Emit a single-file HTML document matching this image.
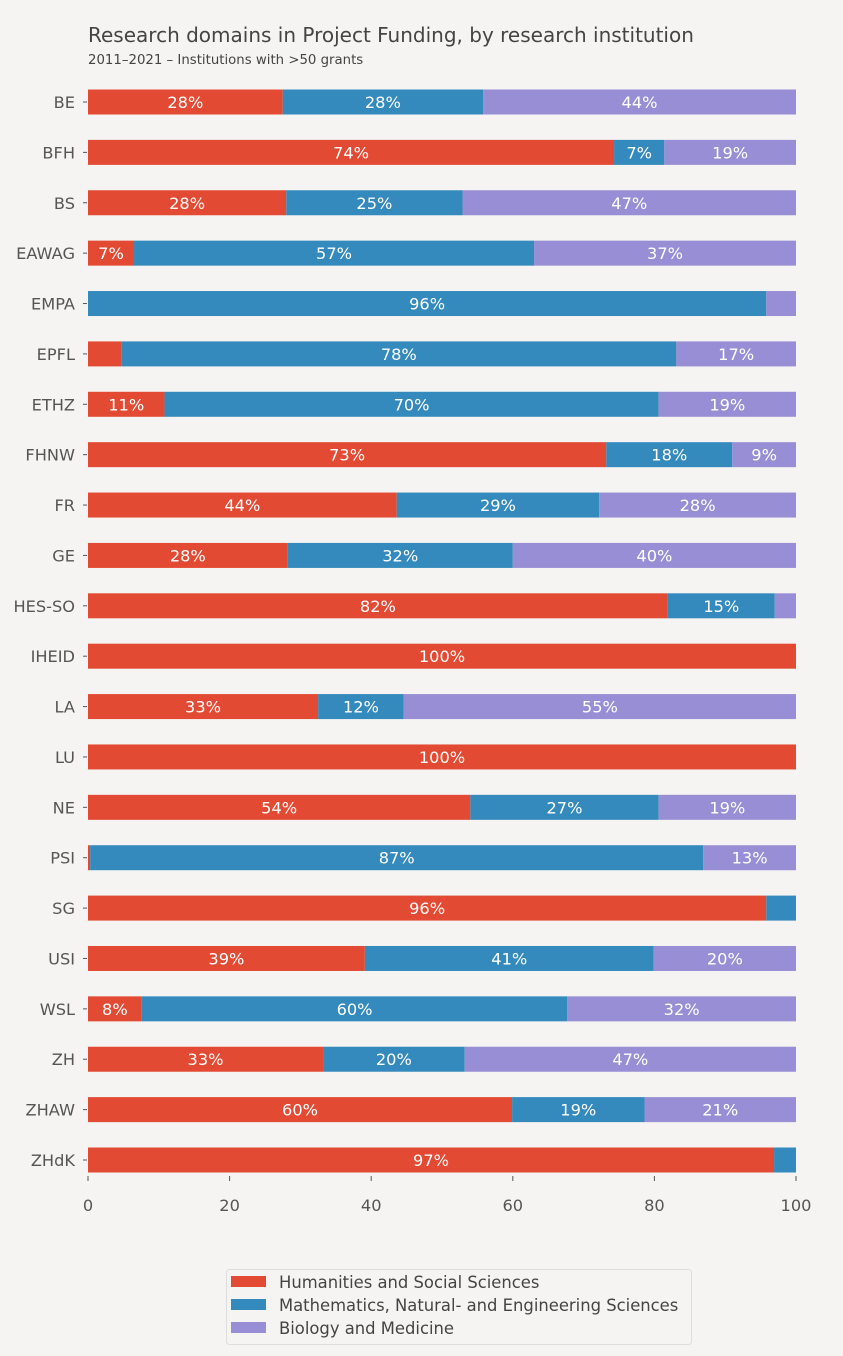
<!DOCTYPE html>
<html><head><meta charset="utf-8">
<style>
html,body{margin:0;padding:0;background:#F5F4F2;}
svg{display:block;font-family:"DejaVu Sans","Liberation Sans",sans-serif;}
</style></head>
<body>
<svg id="chart" width="843" height="1356" viewBox="0 0 843 1356">
  <rect x="0" y="0" width="843" height="1356" fill="#F5F4F2"/>
  <text x="88" y="42" font-size="20" fill="#444">Research domains in Project Funding, by research institution</text>
  <text x="88" y="64" font-size="13.3" fill="#444">2011–2021 – Institutions with &gt;50 grants</text>
  <g id="bars"></g>
  <g id="yaxis"></g>
  <g id="xaxis"></g>
  <g>
    <rect x="226.5" y="1269.5" width="465" height="75" rx="3" fill="#F5F4F2" stroke="#ddd"/>
    <g>
      <rect x="231" y="1276" width="35" height="11" fill="#E24A33"/>
      <text x="279" y="1288" font-size="16.4" fill="#444">Humanities and Social Sciences</text>
    </g>
    <g>
      <rect x="231" y="1299" width="35" height="11" fill="#348ABD"/>
      <text x="279" y="1311" font-size="16.4" fill="#444">Mathematics, Natural- and Engineering Sciences</text>
    </g>
    <g>
      <rect x="231" y="1322" width="35" height="11" fill="#988ED5"/>
      <text x="279" y="1334" font-size="16.4" fill="#444">Biology and Medicine</text>
    </g>
  </g>
</svg>
<script>
const categories = ["BE","BFH","BS","EAWAG","EMPA","EPFL","ETHZ","FHNW","FR","GE","HES-SO","IHEID","LA","LU","NE","PSI","SG","USI","WSL","ZH","ZHAW","ZHdK"];
const humanities = [27.5,74.3,28.0,6.5,0,4.7,10.8,73.2,43.6,28.2,81.9,100,32.5,100,54.0,0.3,95.8,39.1,7.6,33.2,59.9,96.9];
const mathematics = [28.3,7.1,24.9,56.5,95.8,78.4,69.8,17.8,28.6,31.8,15.1,0,12.1,0,26.6,86.6,4.2,40.8,60.1,20.0,18.7,3.1];
const biology = [44.2,18.6,47.1,37.0,4.2,16.9,19.4,9.0,27.8,40.0,3.0,0,55.4,0,19.4,13.1,0,20.1,32.3,46.8,21.4,0];
const xTicks = [0,20,40,60,80,100];

const NS = "http://www.w3.org/2000/svg";
const x0 = 88, x1 = 796;
const xScale = v => x0 + (x1 - x0) * v / 100;
const yTop = 102, yBot = 1160;
const yScale = i => yTop + (yBot - yTop) * i / (categories.length - 1);
const barH = 25;
const series = [
  {vals: humanities, color: "#E24A33", key: "humanities"},
  {vals: mathematics, color: "#348ABD", key: "mathematics"},
  {vals: biology, color: "#988ED5", key: "biology"}
];
function mk(tag, attrs, parent) {
  const e = document.createElementNS(NS, tag);
  for (const k in attrs) e.setAttribute(k, attrs[k]);
  parent.appendChild(e);
  return e;
}
const gB = document.getElementById("bars");
const gY = document.getElementById("yaxis");
const gX = document.getElementById("xaxis");

categories.forEach((cat, i) => {
  const cy = yScale(i);
  let acc = 0;
  series.forEach(s => {
    const v = s.vals[i];
    if (v > 0) {
      const r = mk("rect", {x: xScale(acc), y: cy - barH / 2, width: xScale(acc + v) - xScale(acc), height: barH, fill: s.color}, gB);
      
      
      if (v >= 5) {
        const t = mk("text", {x: (xScale(acc) + xScale(acc + v)) / 2, y: cy + 6, "text-anchor": "middle", "font-size": "16.2", fill: "#fff"}, gB);
        t.textContent = Math.round(v) + "%";
        
        
      }
    }
    acc += v;
  });
  const tk = mk("line", {x1: x0 - 5, x2: x0 - 1, y1: cy, y2: cy, stroke: "#555", "stroke-width": 1}, gY);
  
  
  const lb = mk("text", {x: x0 - 13, y: cy + 6, "text-anchor": "end", "font-size": "16.2", fill: "#555"}, gY);
  lb.textContent = cat;
  
  
});

xTicks.forEach(v => {
  const x = xScale(v);
  const tk = mk("line", {x1: x, x2: x, y1: 1176, y2: 1181, stroke: "#555", "stroke-width": 1}, gX);
  
  
  const lb = mk("text", {x: x, y: 1211, "text-anchor": "middle", "font-size": "16.2", fill: "#555"}, gX);
  lb.textContent = v;
  
  
});
</script>
</body></html>
